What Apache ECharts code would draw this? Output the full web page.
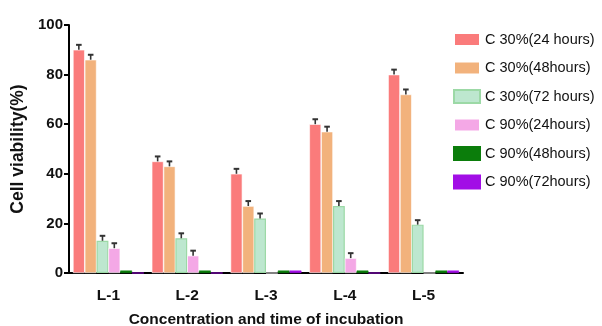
<!DOCTYPE html>
<html>
<head>
<meta charset="utf-8">
<script src="https://cdn.jsdelivr.net/npm/echarts@6/dist/echarts.min.js"></script>
<style>html,body{margin:0;padding:0;background:#fff}#c{width:602px;height:326px}</style>
</head>
<body>
<div id="c"></div>
<script>
const categories = ['L-1', 'L-2', 'L-3', 'L-4', 'L-5'];
const seriesNames = ['C 30%(24 hours)', 'C 30%(48hours)', 'C 30%(72 hours)', 'C 90%(24hours)', 'C 90%(48hours)', 'C 90%(72hours)'];
const c30_24 = [90, 45, 40, 60, 80];
const c30_48 = [86, 43, 27, 57, 72];
const c30_72 = [13, 14, 22, 27, 19.5];
const c90_24 = [10, 7, 0, 6, 0];
const c90_48 = [1, 1, 1, 1, 1];
const c90_72 = [0, 0, 1, 0, 1];
const err30_24 = [2, 2, 2, 2, 2];
const err30_48 = [2, 2, 2, 2, 2];
const err30_72 = [2, 2, 2, 2, 1.8];
const err90_24 = [2, 2, 0, 2, 0];
const err90_48 = [0, 0, 0, 0, 0];
const err90_72 = [0, 0, 0, 0, 0];
const yTicks = [0, 20, 40, 60, 80, 100];

const values = [c30_24, c30_48, c30_72, c90_24, c90_48, c90_72];
const errs = [err30_24, err30_48, err30_72, err90_24, err90_48, err90_72];
const colors = ['#FA7B7B', '#F2B27C', '#BDE7CF', '#F4A8E6', '#0B7D0B', '#A20EE6'];
const borders = ['#ffffff', '#ffffff', '#9CD9A6', '#ffffff', '#0B7D0B', '#A20EE6'];
const GAP = 0.10;
const N = values.length;

const series = [];
values.forEach((v, i) => {
  series.push({
    name: seriesNames[i], type: 'bar', data: v,
    barGap: '0%', barCategoryGap: (GAP * 100) + '%',
    itemStyle: { color: colors[i], borderColor: borders[i], borderWidth: i === 2 ? 1.2 : 0.6 }
  });
});
values.forEach((v, i) => {
  series.push({
    type: 'custom', z: 5, silent: true,
    data: v.map((val, k) => [k, val, errs[i][k]]),
    encode: { x: 0, y: 1 },
    renderItem: function (params, api) {
      const e = api.value(2);
      if (!e) return null;
      const k = api.value(0), val = api.value(1);
      const base = api.coord([k, val]);
      const top = api.coord([k, val + e]);
      const band = api.size([1, 0])[0];
      const total = band * (1 - GAP);
      const bw = total / N;
      const cx = base[0] - total / 2 + (i + 0.5) * bw;
      const st = { stroke: '#333', lineWidth: 1.6 };
      return { type: 'group', children: [
        { type: 'line', shape: { x1: cx, y1: base[1], x2: cx, y2: top[1] }, style: st },
        { type: 'line', shape: { x1: cx - 2.8, y1: top[1], x2: cx + 2.8, y2: top[1] }, style: { stroke: '#333', lineWidth: 2 } }
      ]};
    }
  });
});

const chart = echarts.init(document.getElementById('c'), null, { renderer: 'canvas' });
chart.setOption({
  animation: false,
  textStyle: { fontFamily: 'Liberation Sans, Arial, sans-serif' },
  grid: { left: 69, right: 139, top: 25, bottom: 53, containLabel: false, outerBoundsMode: 'none' },
  legend: {
    orient: 'vertical', left: 448, top: 27, data: seriesNames,
    itemWidth: 26, itemHeight: 13, itemGap: 13.5,
    textStyle: { fontSize: 14.5, color: '#111', fontFamily: 'Liberation Sans, Arial, sans-serif' },
    icon: 'rect'
  },
  xAxis: {
    type: 'category', data: categories,
    name: 'Concentration and time of incubation', nameLocation: 'middle', nameGap: 39,
    nameTextStyle: { fontSize: 15.5, fontWeight: 'bold', color: '#111' },
    axisLine: { lineStyle: { color: '#000', width: 2 } },
    axisTick: { alignWithLabel: true, length: 6, lineStyle: { color: '#000', width: 2 } },
    axisLabel: { fontSize: 15.5, fontWeight: 'bold', color: '#111', margin: 15 }
  },
  yAxis: {
    type: 'value', min: yTicks[0], max: yTicks[yTicks.length - 1], interval: 20,
    name: 'Cell viability(%)', nameLocation: 'middle', nameGap: 38, nameRotate: 90,
    nameTextStyle: { fontSize: 17.5, fontWeight: 'bold', color: '#111' },
    axisLine: { show: true, lineStyle: { color: '#000', width: 2 } },
    axisTick: { show: true, length: 5, lineStyle: { color: '#000', width: 2 } },
    axisLabel: { fontSize: 15, fontWeight: 'bold', color: '#111', margin: 6 },
    splitLine: { show: false }
  },
  series: series
});
</script>
</body>
</html>
